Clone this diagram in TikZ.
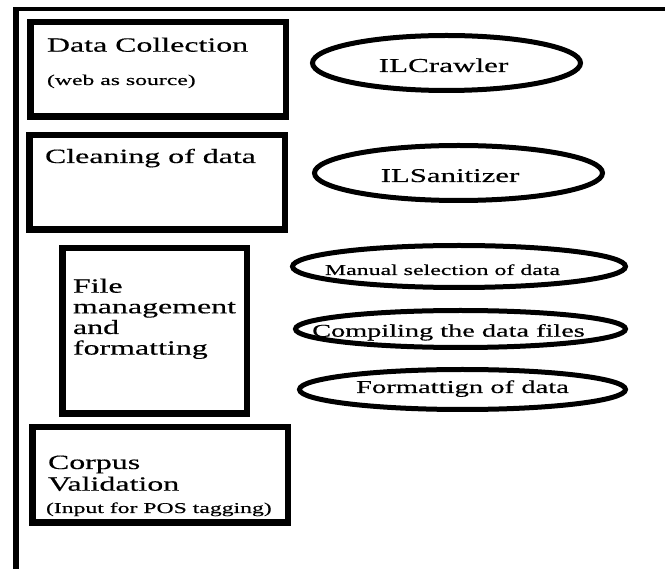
\documentclass[tikz,border=0pt]{standalone}
\usepackage{fontspec}
\setmainfont[FakeStretch=1.58,FakeBold=0.4]{Liberation Serif}
\usetikzlibrary{shapes.geometric}
\begin{document}
\begin{tikzpicture}[x=1pt,y=-1pt,
  stagebox/.style={draw, rectangle, line width=6.5pt, inner sep=0pt, outer sep=0pt},
  oval/.style={draw, ellipse, line width=5pt, inner sep=0pt, outer sep=0pt},
  big/.style={inner sep=0pt, outer sep=0pt, anchor=base west, font=\fontsize{20.2}{22}\selectfont},
  small/.style={inner sep=0pt, outer sep=0pt, anchor=base west, font=\fontsize{15}{17}\selectfont},
  otext/.style={inner sep=0pt, outer sep=0pt, anchor=base}]
\useasboundingbox (0,0) rectangle (665,569);
% outer frame
\coordinate (ftl) at (16,7.5);
\coordinate (fbl) at (16,569);
\coordinate (ftl2) at (13.5,9.5);
\coordinate (ftr) at (665,9.5);
\draw[line width=5.5pt] (ftl) -- (fbl);
\draw[line width=4pt] (ftl2) -- (ftr);
% boxes
\node[stagebox, minimum width=255.5pt, minimum height=94.5pt] (b1) at (158,69.5) {};
\node[stagebox, minimum width=255.5pt, minimum height=94.5pt] (b2) at (157,182.5) {};
\node[stagebox, minimum width=184.5pt, minimum height=165.5pt] (b3) at (154.5,331) {};
\node[stagebox, minimum width=255.5pt, minimum height=95.5pt] (b4) at (160,475) {};
% box texts
\node[big] (t1) at (47,51.7) {Data Collection};
\node[small] (t1s) at (47,85) {(web as source)};
\node[big] (t2) at (45,163) {Cleaning of data};
\node[big] (t3a) at (73,292.7) {File};
\node[big] (t3b) at (73,313.3) {management};
\node[big] (t3c) at (73,334) {and};
\node[big] (t3d) at (73,354.6) {formatting};
\node[big] (t4a) at (48,469) {Corpus};
\node[big] (t4b) at (48,490.7) {Validation};
\node[small] (t4c) at (46,513) {(Input for POS tagging)};
% ellipses
\node[oval, minimum width=268pt, minimum height=55pt] (e1) at (446.5,63) {};
\node[oval, minimum width=288pt, minimum height=55pt] (e2) at (458.5,173) {};
\node[oval, minimum width=333pt, minimum height=42pt] (e3) at (459,266.5) {};
\node[oval, minimum width=330pt, minimum height=37pt] (e4) at (460.5,329) {};
\node[oval, minimum width=326pt, minimum height=40pt] (e5) at (462.5,389.5) {};
% ellipse texts
\node[otext, font=\fontsize{19.7}{22}\selectfont] (l1) at (443.5,72) {ILCrawler};
\node[otext, font=\fontsize{19.5}{22}\selectfont] (l2) at (450,182) {ILSanitizer};
\node[otext, font=\fontsize{15.1}{17}\selectfont] (l3) at (442.5,275) {Manual selection of data};
\node[otext, font=\fontsize{17.9}{20}\selectfont] (l4) at (448.5,336.7) {Compiling the data files};
\node[otext, font=\fontsize{18.1}{20}\selectfont] (l5) at (462.5,393) {Formattign of data};
\end{tikzpicture}
\end{document}
